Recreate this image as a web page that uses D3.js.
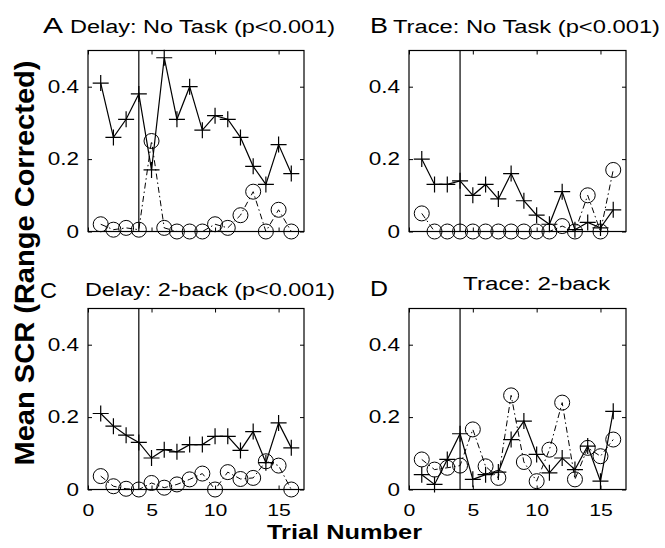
<!DOCTYPE html>
<html>
<head>
<meta charset="utf-8">
<script src="https://cdn.jsdelivr.net/npm/d3@7"></script>
<style>
  body { margin: 0; background: #fff; }
  text { font-family: "Liberation Sans", Arial, Helvetica, sans-serif; fill: #000; }
</style>
</head>
<body>
<div id="chart"></div>
<script>
// trial numbers shared by every panel
var trials = [1, 2, 3, 4, 5, 6, 7, 8, 9, 10, 11, 12, 13, 14, 15, 16];
var xTicks = [0, 5, 10, 15];
var yTicks = [0, 0.2, 0.4];
var yTickLabels = ['0', '0.2', '0.4'];
var markerTrial = 4;

var panelLetters = ['A', 'B', 'C', 'D'];
var panelTitles = ['Delay: No Task (p<0.001)', 'Trace: No Task (p<0.001)', 'Delay: 2-back (p<0.001)', 'Trace: 2-back'];

// "+" series (solid line) and "o" series (dash-dot line)
var delayNoTaskPlus = [0.41, 0.26, 0.31, 0.38, 0.17, 0.48, 0.31, 0.40, 0.28, 0.32, 0.31, 0.26, 0.18, 0.13, 0.24, 0.16];
var delayNoTaskCirc = [0.02, 0.005, 0.01, 0.005, 0.25, 0.01, 0, 0, 0, 0.02, 0.01, 0.045, 0.11, 0, 0.06, 0];
var traceNoTaskPlus = [0.20, 0.13, 0.13, 0.14, 0.10, 0.13, 0.09, 0.16, 0.085, 0.045, 0.02, 0.11, 0.005, 0.025, 0.01, 0.06];
var traceNoTaskCirc = [0.05, 0, 0, 0, 0, 0, 0, 0, 0, 0, 0, 0.015, 0, 0.10, 0, 0.17];
var delay2backPlus = [0.21, 0.175, 0.15, 0.13, 0.087, 0.11, 0.104, 0.124, 0.124, 0.147, 0.147, 0.108, 0.16, 0.074, 0.184, 0.115];
var delay2backCirc = [0.037, 0.009, 0.002, 0, 0.018, 0.005, 0.014, 0.028, 0.044, 0, 0.048, 0.029, 0.032, 0.078, 0.066, 0];
var trace2backPlus = [0.041, 0.014, 0.083, 0.154, 0.028, 0.041, 0.048, 0.138, 0.189, 0.097, 0.046, 0.087, 0.055, 0.12, 0.023, 0.216];
var trace2backCirc = [0.083, 0.055, 0.06, 0.066, 0.166, 0.064, 0.032, 0.26, 0.076, 0.023, 0.11, 0.24, 0.028, 0.115, 0.092, 0.138];

var width = 665;
var height = 548;
var textStretch = 1.25;

var svg = d3.select('#chart').append('svg')
    .attr('width', width)
    .attr('height', height)
    .style('background', '#fff');

var panels = [
  { plus: delayNoTaskPlus, circ: delayNoTaskCirc, left: 88, right: 304, top: 50.5, bottom: 231.5, xLabels: false,
    letter: { x: 43, y: 33, len: 20 }, title: { x: 70, y: 33, len: 265 } },
  { plus: traceNoTaskPlus, circ: traceNoTaskCirc, left: 409, right: 626, top: 50.5, bottom: 231.5, xLabels: false,
    letter: { x: 370, y: 33, len: 18 }, title: { x: 393, y: 33, len: 267 } },
  { plus: delay2backPlus, circ: delay2backCirc, left: 88, right: 304, top: 308.5, bottom: 489.5, xLabels: true,
    letter: { x: 40, y: 298, len: 17 }, title: { x: 85, y: 296, len: 250 } },
  { plus: trace2backPlus, circ: trace2backCirc, left: 409, right: 626, top: 308.5, bottom: 489.5, xLabels: true,
    letter: { x: 370, y: 296, len: 18 }, title: { x: 463, y: 290, len: 147 } }
];

var plusPath = 'M-8,0H8M0,-8V8';

var stretchText = function (sel) {
  sel.each(function () {
    var t = d3.select(this);
    var x = +t.attr('x') || 0;
    t.attr('x', x / textStretch)
        .attr('transform', 'scale(' + textStretch + ',1)');
  });
};

panels.forEach(function (p, i) {
  var xScale = d3.scaleLinear().domain([0, 17]).range([p.left, p.right]);
  var yScale = d3.scaleLinear().domain([0, 0.5]).range([p.bottom, p.top]);
  var g = svg.append('g').attr('class', 'panel');

  var pts = function (vals) {
    return trials.map(function (t, j) { return { t: t, v: vals[j] }; });
  };
  var line = d3.line()
      .x(function (d) { return xScale(d.t); })
      .y(function (d) { return yScale(d.v); });

  // box
  g.append('rect')
      .attr('x', p.left).attr('y', p.top)
      .attr('width', p.right - p.left).attr('height', p.bottom - p.top)
      .attr('fill', 'none').attr('stroke', '#000').attr('stroke-width', 1.2);

  // inner ticks, MATLAB style, all four sides
  var yAxis = d3.axisLeft(yScale).tickValues(yTicks).tickSize(-4).tickSizeOuter(0).tickPadding(9)
      .tickFormat(function (d, k) { return yTickLabels[k]; });
  var yAxisEl = g.append('g').attr('class', 'y-axis')
      .attr('transform', 'translate(' + p.left + ',0)').call(yAxis);
  g.append('g').attr('transform', 'translate(' + p.right + ',0)')
      .call(d3.axisRight(yScale).tickValues(yTicks).tickSize(-4).tickSizeOuter(0).tickFormat(''));
  var xAxis = d3.axisBottom(xScale).tickValues(xTicks).tickSize(-4).tickSizeOuter(0).tickPadding(14);
  if (!p.xLabels) xAxis.tickFormat('');
  var xAxisEl = g.append('g').attr('class', 'x-axis')
      .attr('transform', 'translate(0,' + p.bottom + ')').call(xAxis);
  g.append('g').attr('transform', 'translate(0,' + p.top + ')')
      .call(d3.axisTop(xScale).tickValues(xTicks).tickSize(-4).tickSizeOuter(0).tickFormat(''));

  g.selectAll('.domain').remove();
  g.selectAll('.tick line').attr('stroke', '#000');
  yAxisEl.selectAll('.tick text').style('font-size', '18px');
  xAxisEl.selectAll('.tick text').style('font-size', '17px');
  g.selectAll('.tick text')
      .style('font-family', '"Liberation Sans", Arial, sans-serif')
      .attr('fill', '#000');
  yAxisEl.selectAll('.tick text').call(stretchText);
  xAxisEl.selectAll('.tick text').call(stretchText);

  // vertical marker at trial 4
  g.append('line')
      .attr('x1', xScale(markerTrial)).attr('x2', xScale(markerTrial))
      .attr('y1', p.top).attr('y2', p.bottom)
      .attr('stroke', '#000').attr('stroke-width', 1.2);

  // "o" series, dash-dot
  g.append('path').datum(pts(p.circ))
      .attr('d', line).attr('fill', 'none')
      .attr('stroke', '#000').attr('stroke-width', 1)
      .attr('stroke-dasharray', '6,3,1.5,3');
  g.selectAll('.circ').data(pts(p.circ)).enter().append('circle')
      .attr('class', 'circ')
      .attr('cx', function (d) { return xScale(d.t); })
      .attr('cy', function (d) { return yScale(d.v); })
      .attr('r', 7.5)
      .attr('fill', 'none').attr('stroke', '#000').attr('stroke-width', 1);

  // "+" series, solid
  g.append('path').datum(pts(p.plus))
      .attr('d', line).attr('fill', 'none')
      .attr('stroke', '#000').attr('stroke-width', 1.2);
  g.selectAll('.plus').data(pts(p.plus)).enter().append('path')
      .attr('class', 'plus')
      .attr('d', plusPath)
      .attr('transform', function (d) { return 'translate(' + xScale(d.t) + ',' + yScale(d.v) + ')'; })
      .attr('fill', 'none').attr('stroke', '#000').attr('stroke-width', 1.2);

  // titles
  svg.append('text')
      .attr('x', p.letter.x).attr('y', p.letter.y)
      .attr('textLength', p.letter.len).attr('lengthAdjust', 'spacingAndGlyphs')
      .style('font-size', '22px')
      .text(panelLetters[i]);
  svg.append('text')
      .attr('x', p.title.x).attr('y', p.title.y)
      .attr('textLength', p.title.len).attr('lengthAdjust', 'spacingAndGlyphs')
      .style('font-size', '18px')
      .text(panelTitles[i]);
});

// shared axis labels
svg.append('text')
    .attr('transform', 'translate(34,263) rotate(-90)')
    .attr('text-anchor', 'middle')
    .attr('textLength', 405).attr('lengthAdjust', 'spacingAndGlyphs')
    .style('font-size', '28px').style('font-weight', 'bold')
    .text('Mean SCR (Range Corrected)');

svg.append('text')
    .attr('x', 267).attr('y', 539)
    .attr('textLength', 155).attr('lengthAdjust', 'spacingAndGlyphs')
    .style('font-size', '21px').style('font-weight', 'bold')
    .text('Trial Number');
</script>
</body>
</html>
